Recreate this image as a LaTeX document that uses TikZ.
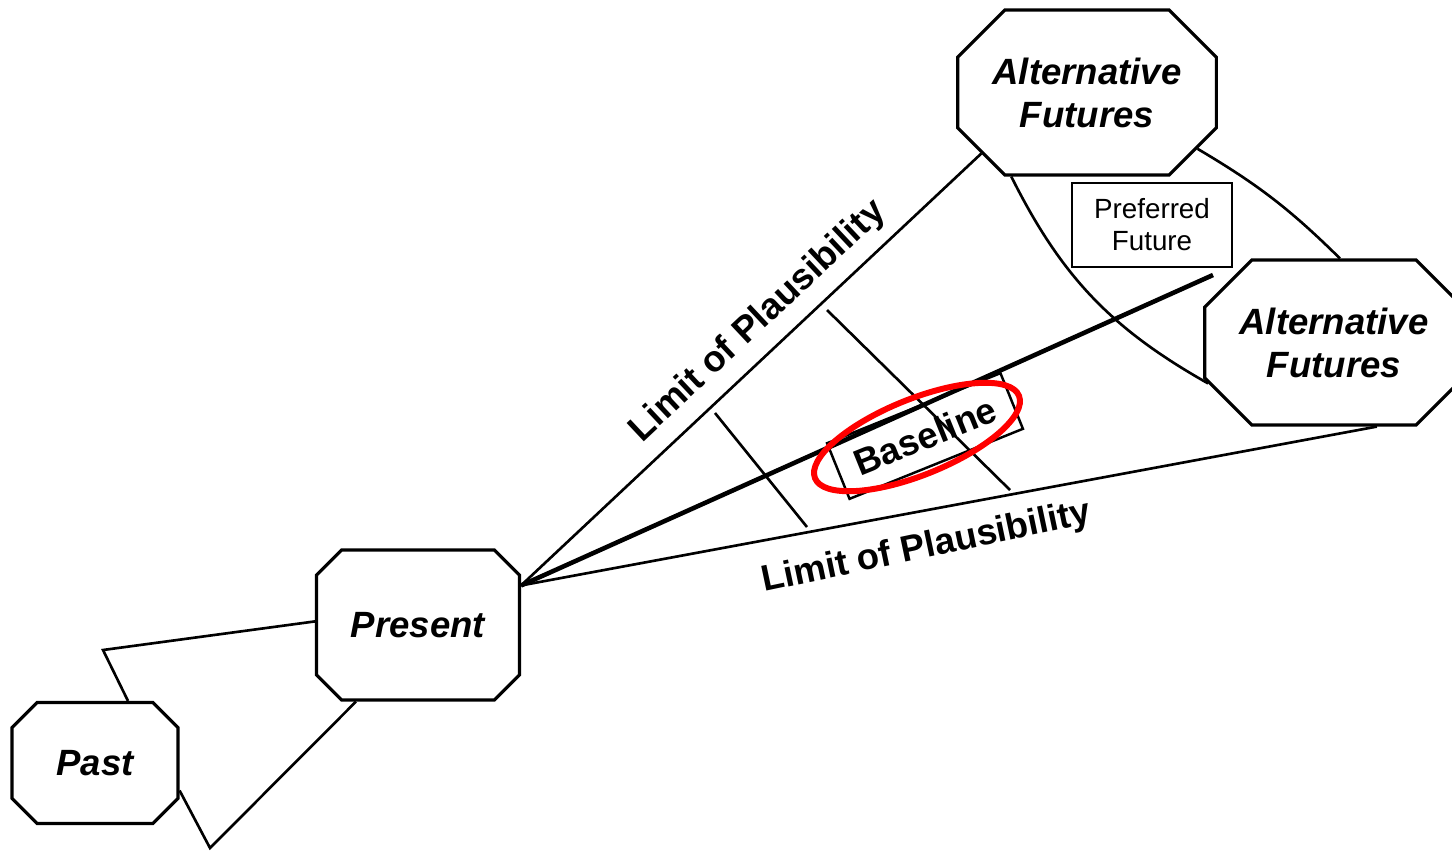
\documentclass[tikz,border=0pt]{standalone}
\usepackage{fontspec}
\setmainfont{Liberation Sans}
\usepackage{tikz}
\usetikzlibrary{shapes,shapes.misc,calc,positioning}

\tikzset{
    octa/.style={draw, line width=0.9pt, chamfered rectangle, inner sep=0pt, align=center,
        font=\fontsize{10.4}{12.2}\selectfont\bfseries\itshape},
    limit/.style={line width=0.75pt},
    lbl/.style={font=\fontsize{10.4}{12}\selectfont\bfseries},
}

\begin{document}
\begin{tikzpicture}
    \useasboundingbox (0,0) rectangle (14.52,-8.51);
    \node[octa, minimum width=1.66cm, minimum height=1.21cm, chamfered rectangle xsep=0.35cm] (past) at (0.95,-7.63) {Past};
    \node[octa, minimum width=2.03cm, minimum height=1.50cm, chamfered rectangle xsep=0.40cm] (present) at (4.18,-6.25) {Present};
    \node[octa, minimum width=2.53cm, minimum height=1.65cm, chamfered rectangle xsep=0.48cm] (alta) at (10.87,-0.925) {Alternative\\Futures};
    \node[octa, minimum width=2.38cm, minimum height=1.65cm, chamfered rectangle xsep=0.44cm] (altb) at (13.34,-3.425) {Alternative\\Futures};
    \node[draw, line width=0.8pt, minimum width=1.60cm, minimum height=0.84cm, align=center,
        font=\fontsize{7.9}{9.1}\selectfont] (pref) at (11.52,-2.25) {Preferred\\Future};
    \node[draw, line width=0.7pt, rotate=22, minimum width=1.87cm, minimum height=0.60cm, lbl] (base) at (9.25,-4.36) {Baseline};

    \coordinate (apex) at (present.21);
    \coordinate (baseend) at (12.13,-2.75);
    \coordinate (c1a) at (7.15,-4.13);
    \coordinate (c1b) at (8.07,-5.27);
    \coordinate (c2a) at (8.27,-3.10);
    \coordinate (c2b) at (10.10,-4.90);
    \coordinate (pp1) at (1.03,-6.50);
    \coordinate (pp2) at (2.10,-8.48);

    % limits of plausibility
    \draw[limit] (apex) -- (alta.210)
        node[lbl, sloped, above, pos=0.56] (toplim) {Limit of Plausibility};
    \draw[limit] (apex) -- (altb.297)
        node[lbl, sloped, below=2pt, pos=0.465, rotate=1.4] (botlim) {Limit of Plausibility};
    \draw[line width=1.3pt] (apex) -- (baseend);
    \draw[limit] (c1a) -- (c1b);
    \draw[limit] (c2a) -- (c2b);

    \draw[limit] (alta.228) to[bend right=17] (altb.198);
    \draw[limit] (alta.333) to[bend left=7] (altb.86);

    % past to present
    \draw[limit] (past.62) -- (pp1) -- (present.178);
    \draw[limit] (past.-18) -- (pp2) -- (present.231);

    \draw[red, line width=1.7pt, rotate around={22:(9.17,-4.37)}] (9.17,-4.37) ellipse (1.10cm and 0.38cm);
\end{tikzpicture}
\end{document}
